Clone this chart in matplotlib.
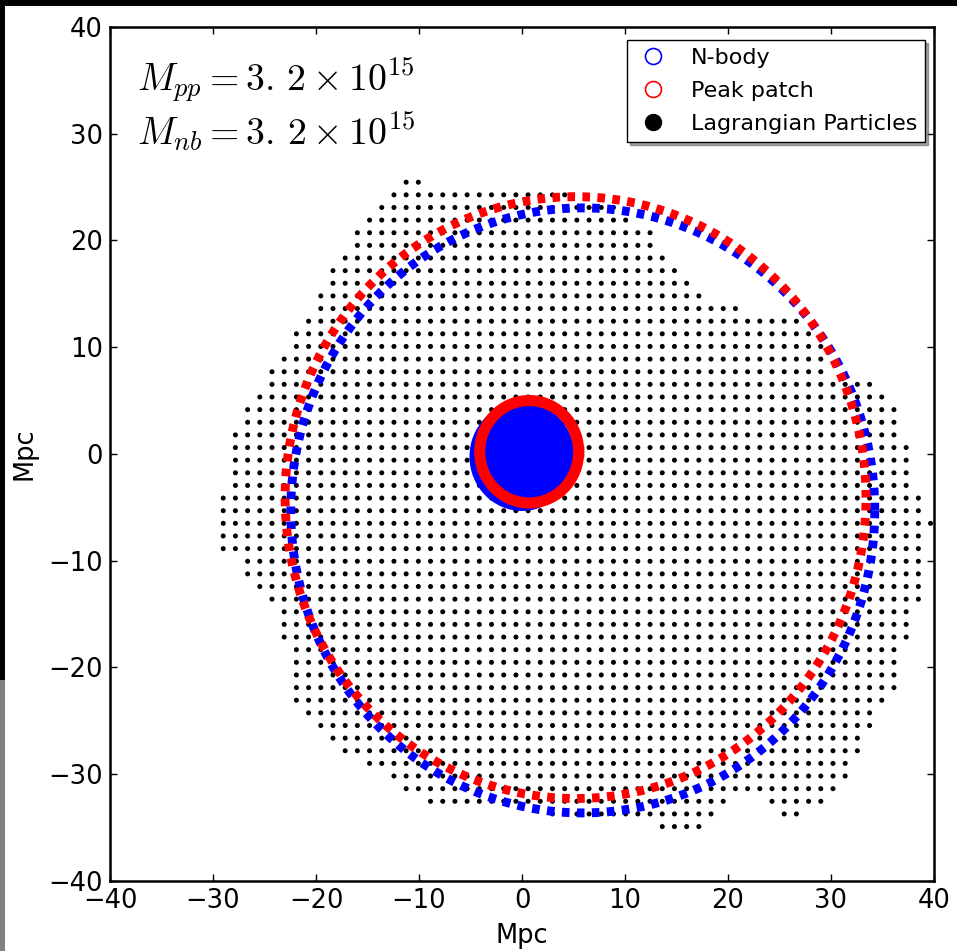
import numpy as np
import matplotlib
matplotlib.use("Agg")
import matplotlib.pyplot as plt
from matplotlib.patches import Circle, Rectangle
from matplotlib.lines import Line2D

plt.rcParams['mathtext.fontset'] = 'cm'
plt.rcParams['font.family'] = ['DejaVu Sans']
plt.rcParams['lines.scale_dashes'] = False

# ---- data ----
grid_spacing = 1.184  # Mpc, Lagrangian grid spacing
# row index j -> list of (i_start, i_end) column segments; positions are (index + 0.5) * spacing
row_index = [21, 20, 19, 18, 17, 16, 15, 14, 13, 12, 11, 10, 9, 8, 7, 6, 5, 4, 3, 2, 1, 0,
             -1, -2, -3, -4, -5, -6, -7, -8, -9, -10, -11, -12, -13, -14, -15, -16, -17,
             -18, -19, -20, -21, -22, -23, -24, -25, -26, -27, -28, -29, -30]
row_segments = [
    [(-10, -9)], [(-11, 3)], [(-12, 7)], [(-13, 8)], [(-14, 10)], [(-14, 10)],
    [(-15, 11)], [(-16, 12)], [(-16, 13)], [(-17, 14)], [(-17, 17)], [(-18, 22)],
    [(-19, 23)], [(-19, 24)], [(-20, 24)], [(-21, 24)], [(-21, 28)], [(-22, 29)],
    [(-23, 30)], [(-23, 30)], [(-24, 30)], [(-24, 31)], [(-24, 31)], [(-24, 31)],
    [(-24, 31)], [(-25, 32)], [(-25, 32)], [(-25, 33)], [(-25, 32)], [(-25, 32)],
    [(-23, 32)], [(-23, 32)], [(-22, 32)], [(-21, 32)], [(-20, 31)], [(-20, 31)],
    [(-20, 31)], [(-19, 30)], [(-19, 30)], [(-19, 30)], [(-19, 30)], [(-19, 29)],
    [(-18, 28)], [(-17, 28)], [(-16, 27)], [(-15, 27)], [(-13, 26)], [(-11, 26)],
    [(-10, 25)], [(-8, 16), (20, 24)], [(2, 15), (21, 22)], [(11, 14)],
]

# fitted halo circles (center x, center y, radius) in Mpc
nbody_lagr = (5.9, -5.3, 28.35)
peak_lagr = (5.2, -4.1, 28.2)
nbody_eul = (0.0, -0.25, 5.1)
peak_eul = (0.7, 0.2, 4.8)

mass_pp = r'$M_{pp}=3.\,2\times10^{15}$'
mass_nb = r'$M_{nb}=3.\,2\times10^{15}$'
legend_labels = ['N-body', 'Peak patch', 'Lagrangian Particles']
ticks = [-40, -30, -20, -10, 0, 10, 20, 30, 40]

# ---- build particle positions ----
px, py = [], []
for j, segs in zip(row_index, row_segments):
    for a, b in segs:
        for i in range(a, b + 1):
            px.append((i + 0.5) * grid_spacing)
            py.append((j + 0.5) * grid_spacing)

W, H = 957, 951
fig = plt.figure(figsize=(W / 100, H / 100), dpi=100, facecolor='white')
# screenshot frame
fig.patches.append(Rectangle((0, 1 - 6 / H), 1, 6 / H, transform=fig.transFigure,
                             facecolor='black', edgecolor='none', zorder=-10))
fig.patches.append(Rectangle((0, (H - 680) / H), 5 / W, 680 / H - 6 / H, transform=fig.transFigure,
                             facecolor='black', edgecolor='none', zorder=-10))
fig.patches.append(Rectangle((0, 0), 5 / W, (H - 680) / H, transform=fig.transFigure,
                             facecolor='#808080', edgecolor='none', zorder=-10))

ax = fig.add_axes([110 / W, 1 - 880.7 / H, 824 / W, 853.7 / H])

ax.scatter(px, py, s=13, c='black', edgecolors='none', zorder=2)

t = np.linspace(0, 2 * np.pi, 400)
cx, cy, r = nbody_lagr
ax.plot(cx + r * np.cos(t), cy + r * np.sin(t), color='blue', lw=6.4,
        dashes=(5.5, 5.3), dash_capstyle='butt', zorder=3)
cx, cy, r = peak_lagr
ax.plot(cx + r * np.cos(t), cy + r * np.sin(t), color='red', lw=6.4,
        dashes=(5.5, 5.3), dash_capstyle='butt', zorder=4)

cx, cy, r = nbody_eul
ax.add_patch(Circle((cx, cy), r, facecolor='blue', edgecolor='none', zorder=5))
cx, cy, r = peak_eul
ax.plot(cx + r * np.cos(t), cy + r * np.sin(t), color='red', lw=8, zorder=6)

ax.set_xlim(-40, 40)
ax.set_ylim(-40, 40)
ax.set_xticks(ticks)
ax.set_yticks(ticks)
ax.set_xticklabels([('\u2212' + str(-v)) if v < 0 else str(v) for v in ticks])
ax.set_yticklabels([('\u2212' + str(-v)) if v < 0 else str(v) for v in ticks])
ax.tick_params(direction='in', top=True, right=True, length=5, width=1, labelsize=18.5,
               pad=5, colors='black')
for s in ax.spines.values():
    s.set_linewidth(1.8)
ax.set_xlabel('Mpc', fontsize=18.5, labelpad=7)
ax.set_ylabel('Mpc', fontsize=18.5, labelpad=8)

ax.text(0.033, 0.9254, mass_pp, transform=ax.transAxes, fontsize=27.2, va='baseline', ha='left')
ax.text(0.033, 0.8618, mass_nb, transform=ax.transAxes, fontsize=27.2, va='baseline', ha='left')

handles = [
    Line2D([], [], ls='none', marker='o', ms=11.5, mfc='none', mec='blue', mew=1.2),
    Line2D([], [], ls='none', marker='o', ms=11.5, mfc='none', mec='red', mew=1.2),
    Line2D([], [], ls='none', marker='o', ms=11.5, mfc='black', mec='black'),
]
leg = ax.legend(handles, legend_labels, loc='upper right', fontsize=16, frameon=True,
                shadow=True, fancybox=False, borderpad=0.35, labelspacing=0.6,
                handletextpad=0.9, handlelength=1.6, borderaxespad=0,
                bbox_to_anchor=(0.989, 0.985))
leg.get_frame().set_edgecolor('black')
leg.get_frame().set_linewidth(1.0)

fig.savefig('out.png', dpi=100, facecolor=fig.get_facecolor())
